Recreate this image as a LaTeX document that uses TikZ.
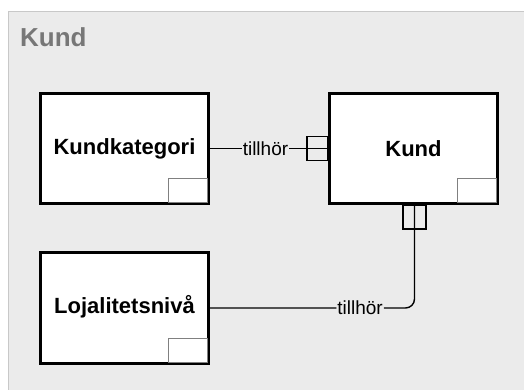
\documentclass[tikz,border=0pt]{standalone}
\usepackage{fontspec}
\setmainfont{Liberation Sans}
\usetikzlibrary{calc}
\definecolor{panelgray}{HTML}{EBEBEB}
\definecolor{panelborder}{HTML}{C8C8C8}
\definecolor{titlegray}{HTML}{777777}
\definecolor{innergray}{HTML}{808080}
\tikzset{
  entity/.style={draw=black, line width=3pt, fill=white, minimum width=168pt, inner sep=0pt,
    font=\fontsize{22}{26}\selectfont\bfseries},
  innerbox/.style={draw=innergray, line width=1pt},
  conn/.style={draw=black, line width=1.4pt},
  lbl/.style={fill=panelgray, inner sep=1pt, font=\fontsize{19}{22}\selectfont},
  titletext/.style={text=titlegray, font=\fontsize{26}{30}\selectfont\bfseries, anchor=west, inner sep=0pt}
}
\begin{document}
\begin{tikzpicture}[x=1pt,y=-1pt]
\useasboundingbox (0,0) rectangle (524,390);
\fill[white] (0,0) rectangle (524,390);
\draw[draw=panelborder, fill=panelgray, line width=1pt] (8.5,11.5) rectangle (530,396);
\node[titletext] (title) at (20,37) {Kund};

\node[entity, minimum height=110pt] (kk) at (124.5,148.5) {Kundkategori};
\node[entity, minimum height=110pt] (kund) at (413.5,148.5) {Kund};
\node[entity, minimum height=111pt, text depth=8pt] (loja) at (124.5,308) {Lojalitetsnivå};

\foreach \n in {kk,kund,loja}{
  \draw[innerbox] ($(\n.south east)+(-42,-27)$) rectangle ($(\n.south east)+(-3,-3)$);
}

% connector 1
\draw[conn] (kk.east) -- node[lbl, pos=0.47] (l1) {tillhör} (kund.west);
\draw[conn] ($(kund.west)+(-21,-12)$) rectangle ($(kund.west)+(0,12)$);

% connector 2
\coordinate (k2) at ($(kund.south)+(1,0)$);
\draw[conn, rounded corners=9pt] (k2) |- node[lbl, pos=0.633] (l2) {tillhör} (loja.east);
\draw[conn] ($(k2)+(-11.5,0)$) rectangle ($(k2)+(11.5,24)$);
\end{tikzpicture}
\end{document}
